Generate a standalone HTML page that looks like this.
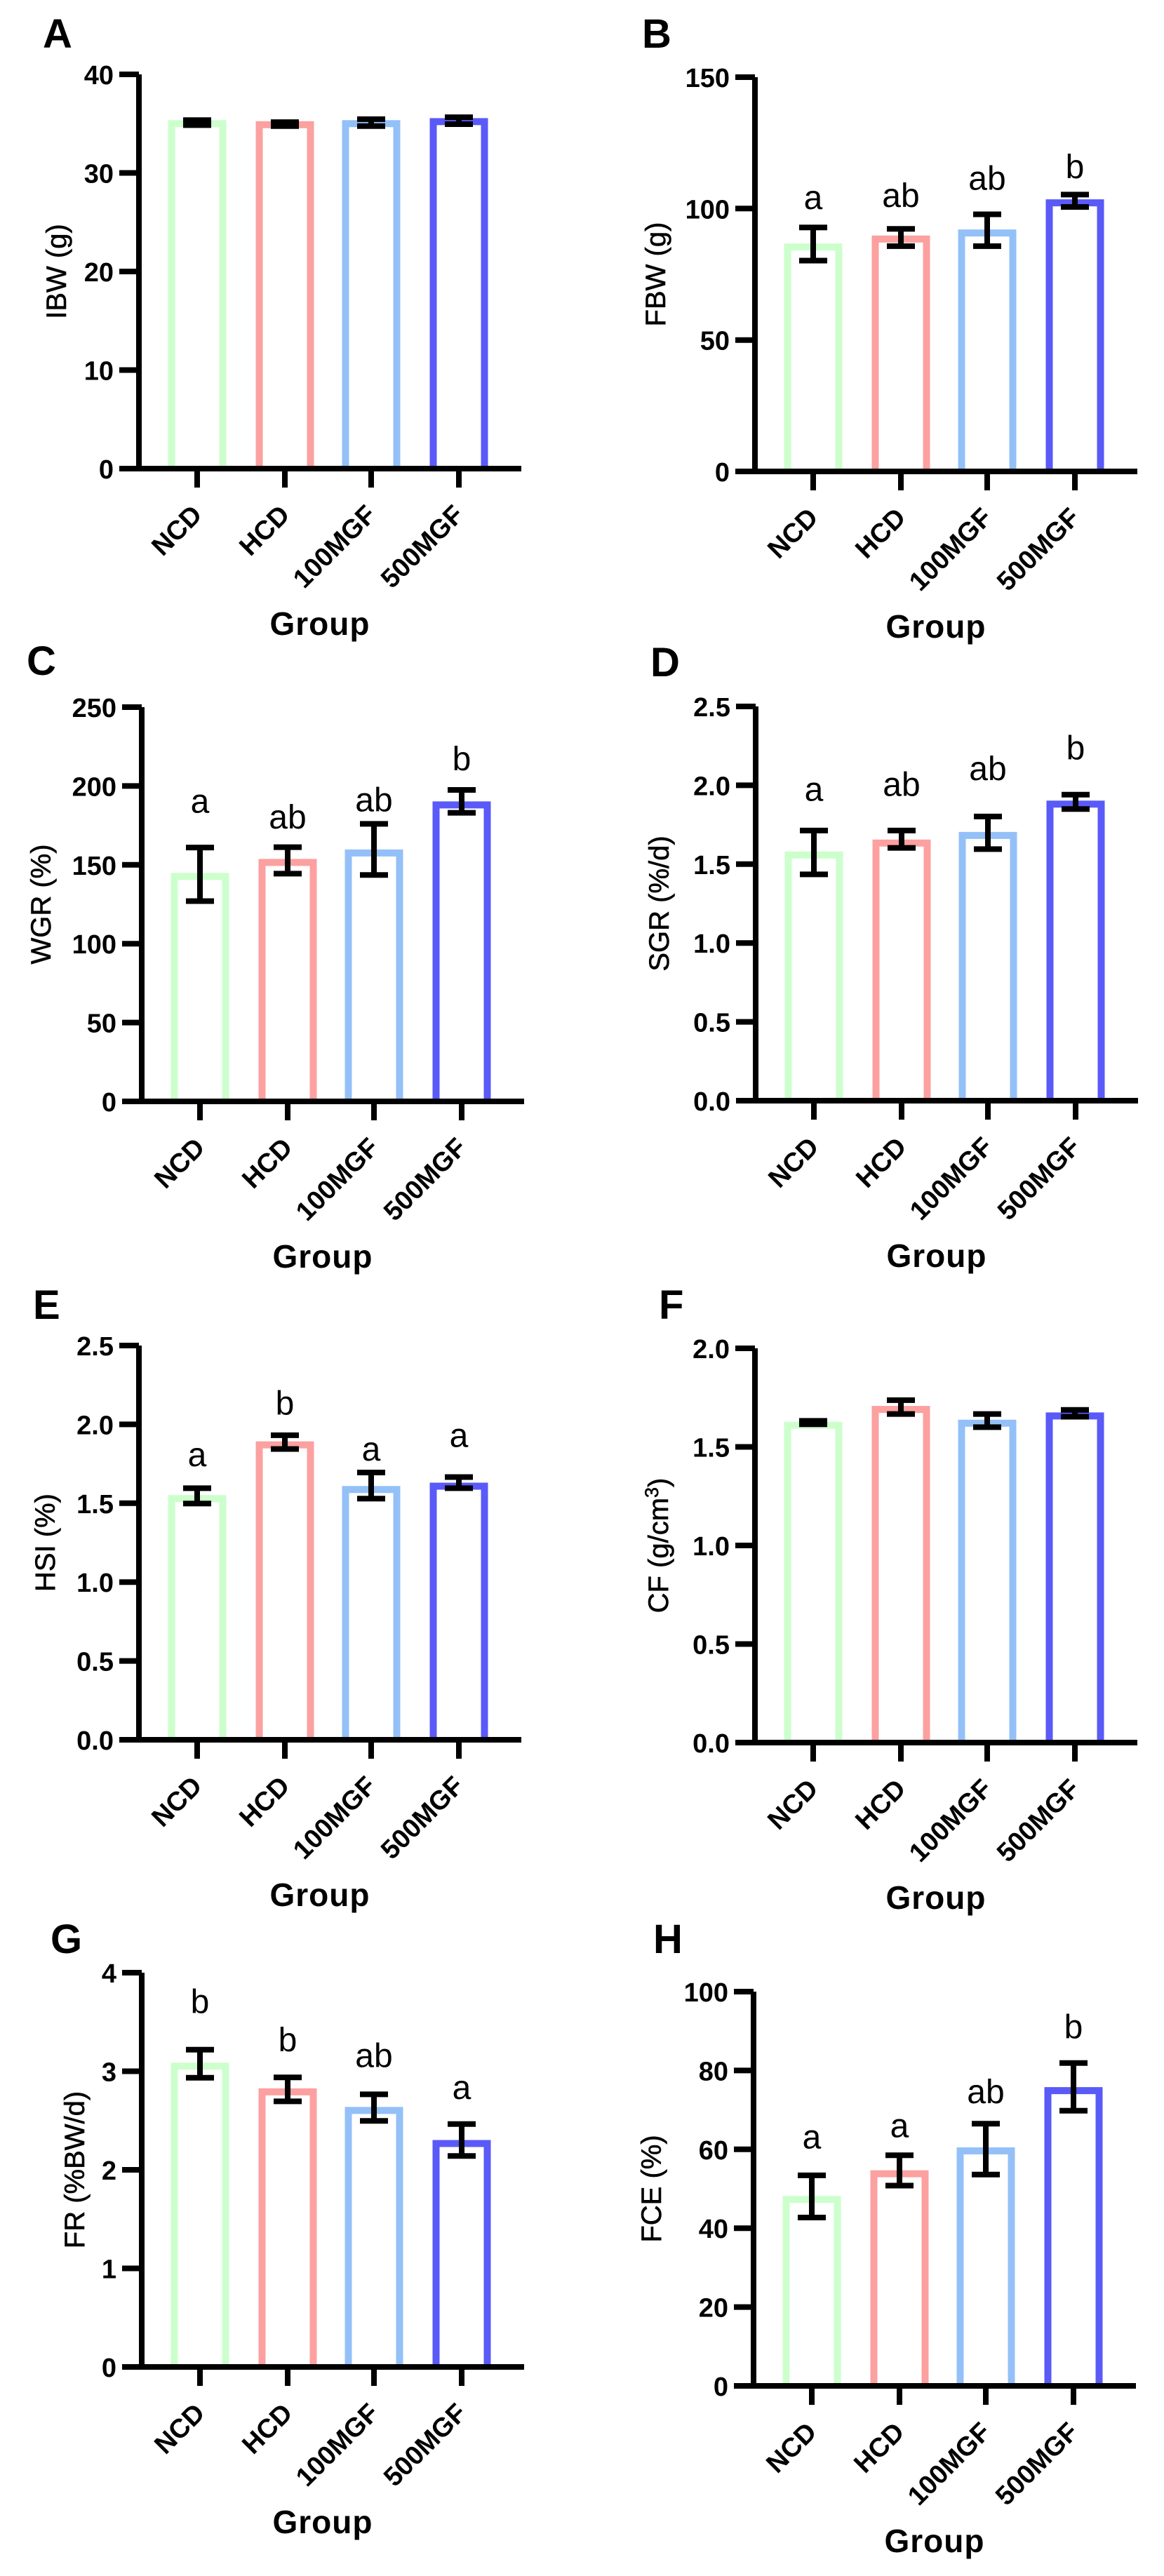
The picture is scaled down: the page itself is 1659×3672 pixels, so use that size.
<!DOCTYPE html>
<html><head><meta charset="utf-8"><style>
html,body{margin:0;padding:0;background:#fff}
svg{display:block}
text{font-family:"Liberation Sans",Arial,sans-serif}
.tk{font-size:38px;font-weight:bold;text-anchor:end}
.cat{font-size:38px;font-weight:bold;text-anchor:end}
.yt{font-size:40px;text-anchor:middle;stroke:#000;stroke-width:0.6}
.gr{font-size:46px;font-weight:bold;text-anchor:middle;letter-spacing:1px}
.sig{font-size:48px;text-anchor:middle}
.pl{font-size:58px;font-weight:bold}
.ax{stroke:#000;stroke-width:8;fill:none}
.eb{stroke:#000;stroke-width:8;fill:none}
.b1{stroke:#ccffcc;stroke-width:10;fill:none}
.b2{stroke:#fca0a0;stroke-width:10;fill:none}
.b3{stroke:#94c0f8;stroke-width:10;fill:none}
.b4{stroke:#5a5af8;stroke-width:10;fill:none}
</style></head><body>
<svg width="1659" height="3672" viewBox="0 0 1659 3672" xmlns="http://www.w3.org/2000/svg">

<text class="pl" x="61" y="68">A</text>
<text class="pl" x="915" y="68">B</text>
<text class="pl" x="38" y="962">C</text>
<text class="pl" x="927" y="964">D</text>
<text class="pl" x="47" y="1880">E</text>
<text class="pl" x="939" y="1880">F</text>
<text class="pl" x="72" y="2784">G</text>
<text class="pl" x="931" y="2784">H</text>

<!-- A -->
<g transform="translate(198,668)">
<path class="b1" d="M46.5,0V-491.8H119.5V0"/>
<path class="b2" d="M171.5,0V-490.3H244.5V0"/>
<path class="b3" d="M294.5,0V-491.8H367.5V0"/>
<path class="b4" d="M419.5,0V-494.6H492.5V0"/>
<path class="eb" d="M83,-489.6V-496.7M63,-489.6H103M63,-496.7H103"/>
<path class="eb" d="M208,-488.2V-493.9M188,-488.2H228M188,-493.9H228"/>
<path class="eb" d="M331,-488.2V-498.1M311,-488.2H351M311,-498.1H351"/>
<path class="eb" d="M456,-491V-500.9M436,-491H476M436,-500.9H476"/>
<path class="ax" d="M0,4V-562M-28,-562H0M-28,-421.5H0M-28,-281H0M-28,-140.5H0M-28,0H545M83,0V27M208,0V27M331,0V27M456,0V27"/>
<text class="tk" x="-36" y="-548">40</text>
<text class="tk" x="-36" y="-407.5">30</text>
<text class="tk" x="-36" y="-267">20</text>
<text class="tk" x="-36" y="-126.5">10</text>
<text class="tk" x="-36" y="14">0</text>
<text class="cat" transform="translate(92,68) rotate(-45)">NCD</text>
<text class="cat" transform="translate(217,68) rotate(-45)">HCD</text>
<text class="cat" transform="translate(340,68) rotate(-45)">100MGF</text>
<text class="cat" transform="translate(465,68) rotate(-45)">500MGF</text>
<text class="gr" x="258" y="237">Group</text>
<text class="yt" transform="translate(-104,-281) rotate(-90)">IBW (g)</text>
</g>

<!-- B -->
<g transform="translate(1076,672)">
<path class="b1" d="M46.5,0V-320H119.5V0"/>
<path class="b2" d="M171.5,0V-331.2H244.5V0"/>
<path class="b3" d="M294.5,0V-339.9H367.5V0"/>
<path class="b4" d="M419.5,0V-382.9H492.5V0"/>
<path class="eb" d="M83,-300.5V-347.7M63,-300.5H103M63,-347.7H103"/>
<path class="eb" d="M208,-321.1V-345.8M188,-321.1H228M188,-345.8H228"/>
<path class="eb" d="M331,-321.1V-366.5M311,-321.1H351M311,-366.5H351"/>
<path class="eb" d="M456,-377V-394.6M436,-377H476M436,-394.6H476"/>
<path class="ax" d="M0,4V-562M-28,-562H0M-28,-374.7H0M-28,-187.3H0M-28,0H545M83,0V27M208,0V27M331,0V27M456,0V27"/>
<text class="tk" x="-36" y="-548">150</text>
<text class="tk" x="-36" y="-360.7">100</text>
<text class="tk" x="-36" y="-173.3">50</text>
<text class="tk" x="-36" y="14">0</text>
<text class="sig" x="83" y="-374">a</text>
<text class="sig" x="208" y="-377">ab</text>
<text class="sig" x="331" y="-401.7">ab</text>
<text class="sig" x="456" y="-418.2">b</text>
<text class="cat" transform="translate(92,68) rotate(-45)">NCD</text>
<text class="cat" transform="translate(217,68) rotate(-45)">HCD</text>
<text class="cat" transform="translate(340,68) rotate(-45)">100MGF</text>
<text class="cat" transform="translate(465,68) rotate(-45)">500MGF</text>
<text class="gr" x="258" y="237">Group</text>
<text class="yt" transform="translate(-128,-281) rotate(-90)">FBW (g)</text>
</g>

<!-- C -->
<g transform="translate(202,1570)">
<path class="b1" d="M46.5,0V-320.6H119.5V0"/>
<path class="b2" d="M171.5,0V-340.6H244.5V0"/>
<path class="b3" d="M294.5,0V-354.1H367.5V0"/>
<path class="b4" d="M419.5,0V-422.6H492.5V0"/>
<path class="eb" d="M83,-285.5V-361.9M63,-285.5H103M63,-361.9H103"/>
<path class="eb" d="M208,-324.6V-362.4M188,-324.6H228M188,-362.4H228"/>
<path class="eb" d="M331,-322.8V-395.6M311,-322.8H351M311,-395.6H351"/>
<path class="eb" d="M456,-411.4V-444M436,-411.4H476M436,-444H476"/>
<path class="ax" d="M0,4V-562M-28,-562H0M-28,-449.6H0M-28,-337.2H0M-28,-224.8H0M-28,-112.4H0M-28,0H545M83,0V27M208,0V27M331,0V27M456,0V27"/>
<text class="tk" x="-36" y="-548">250</text>
<text class="tk" x="-36" y="-435.6">200</text>
<text class="tk" x="-36" y="-323.2">150</text>
<text class="tk" x="-36" y="-210.8">100</text>
<text class="tk" x="-36" y="-98.4">50</text>
<text class="tk" x="-36" y="14">0</text>
<text class="sig" x="83" y="-411.4">a</text>
<text class="sig" x="208" y="-388.9">ab</text>
<text class="sig" x="331" y="-413.6">ab</text>
<text class="sig" x="456" y="-472.1">b</text>
<text class="cat" transform="translate(92,68) rotate(-45)">NCD</text>
<text class="cat" transform="translate(217,68) rotate(-45)">HCD</text>
<text class="cat" transform="translate(340,68) rotate(-45)">100MGF</text>
<text class="cat" transform="translate(465,68) rotate(-45)">500MGF</text>
<text class="gr" x="258" y="237">Group</text>
<text class="yt" transform="translate(-130,-281) rotate(-90)">WGR (%)</text>
</g>

<!-- D -->
<g transform="translate(1077,1569)">
<path class="b1" d="M46.5,0V-350.2H119.5V0"/>
<path class="b2" d="M171.5,0V-367.3H244.5V0"/>
<path class="b3" d="M294.5,0V-378.1H367.5V0"/>
<path class="b4" d="M419.5,0V-422.8H492.5V0"/>
<path class="eb" d="M83,-322.6V-385.1M63,-322.6H103M63,-385.1H103"/>
<path class="eb" d="M208,-360.4V-385.1M188,-360.4H228M188,-385.1H228"/>
<path class="eb" d="M331,-358.6V-405.1M311,-358.6H351M311,-405.1H351"/>
<path class="eb" d="M456,-415.7V-436.3M436,-415.7H476M436,-436.3H476"/>
<path class="ax" d="M0,4V-562M-28,-562H0M-28,-449.6H0M-28,-337.2H0M-28,-224.8H0M-28,-112.4H0M-28,0H545M83,0V27M208,0V27M331,0V27M456,0V27"/>
<text class="tk" x="-36" y="-548">2.5</text>
<text class="tk" x="-36" y="-435.6">2.0</text>
<text class="tk" x="-36" y="-323.2">1.5</text>
<text class="tk" x="-36" y="-210.8">1.0</text>
<text class="tk" x="-36" y="-98.4">0.5</text>
<text class="tk" x="-36" y="14">0.0</text>
<text class="sig" x="83" y="-427.6">a</text>
<text class="sig" x="208" y="-434.5">ab</text>
<text class="sig" x="331" y="-457">ab</text>
<text class="sig" x="456" y="-486.5">b</text>
<text class="cat" transform="translate(92,68) rotate(-45)">NCD</text>
<text class="cat" transform="translate(217,68) rotate(-45)">HCD</text>
<text class="cat" transform="translate(340,68) rotate(-45)">100MGF</text>
<text class="cat" transform="translate(465,68) rotate(-45)">500MGF</text>
<text class="gr" x="258" y="237">Group</text>
<text class="yt" transform="translate(-124,-281) rotate(-90)">SGR (%/d)</text>
</g>

<!-- E -->
<g transform="translate(198,2480)">
<path class="b1" d="M46.5,0V-343.7H119.5V0"/>
<path class="b2" d="M171.5,0V-420.4H244.5V0"/>
<path class="b3" d="M294.5,0V-356.8H367.5V0"/>
<path class="b4" d="M419.5,0V-361.5H492.5V0"/>
<path class="eb" d="M83,-336.8V-358.6M63,-336.8H103M63,-358.6H103"/>
<path class="eb" d="M208,-414.5V-434.1M188,-414.5H228M188,-434.1H228"/>
<path class="eb" d="M331,-343.7V-381M311,-343.7H351M311,-381H351"/>
<path class="eb" d="M456,-358.6V-374.5M436,-358.6H476M436,-374.5H476"/>
<path class="ax" d="M0,4V-562M-28,-562H0M-28,-449.6H0M-28,-337.2H0M-28,-224.8H0M-28,-112.4H0M-28,0H545M83,0V27M208,0V27M331,0V27M456,0V27"/>
<text class="tk" x="-36" y="-548">2.5</text>
<text class="tk" x="-36" y="-435.6">2.0</text>
<text class="tk" x="-36" y="-323.2">1.5</text>
<text class="tk" x="-36" y="-210.8">1.0</text>
<text class="tk" x="-36" y="-98.4">0.5</text>
<text class="tk" x="-36" y="14">0.0</text>
<text class="sig" x="83" y="-389.8">a</text>
<text class="sig" x="208" y="-463.5">b</text>
<text class="sig" x="331" y="-398.1">a</text>
<text class="sig" x="456" y="-417.5">a</text>
<text class="cat" transform="translate(92,68) rotate(-45)">NCD</text>
<text class="cat" transform="translate(217,68) rotate(-45)">HCD</text>
<text class="cat" transform="translate(340,68) rotate(-45)">100MGF</text>
<text class="cat" transform="translate(465,68) rotate(-45)">500MGF</text>
<text class="gr" x="258" y="237">Group</text>
<text class="yt" transform="translate(-120,-281) rotate(-90)">HSI (%)</text>
</g>

<!-- F -->
<g transform="translate(1076,2484)">
<path class="b1" d="M46.5,0V-452.4H119.5V0"/>
<path class="b2" d="M171.5,0V-474.9H244.5V0"/>
<path class="b3" d="M294.5,0V-455.2H367.5V0"/>
<path class="b4" d="M419.5,0V-465.6H492.5V0"/>
<path class="eb" d="M83,-453.8V-458.6M63,-453.8H103M63,-458.6H103"/>
<path class="eb" d="M208,-468.4V-488.1M188,-468.4H228M188,-488.1H228"/>
<path class="eb" d="M331,-449.6V-468.4M311,-449.6H351M311,-468.4H351"/>
<path class="eb" d="M456,-464.5V-474.3M436,-464.5H476M436,-474.3H476"/>
<path class="ax" d="M0,4V-562M-28,-562H0M-28,-421.5H0M-28,-281H0M-28,-140.5H0M-28,0H545M83,0V27M208,0V27M331,0V27M456,0V27"/>
<text class="tk" x="-36" y="-548">2.0</text>
<text class="tk" x="-36" y="-407.5">1.5</text>
<text class="tk" x="-36" y="-267">1.0</text>
<text class="tk" x="-36" y="-126.5">0.5</text>
<text class="tk" x="-36" y="14">0.0</text>
<text class="cat" transform="translate(92,68) rotate(-45)">NCD</text>
<text class="cat" transform="translate(217,68) rotate(-45)">HCD</text>
<text class="cat" transform="translate(340,68) rotate(-45)">100MGF</text>
<text class="cat" transform="translate(465,68) rotate(-45)">500MGF</text>
<text class="gr" x="258" y="237">Group</text>
<text class="yt" transform="translate(-124,-281) rotate(-90)">CF (g/cm<tspan dy="-14" font-size="27">3</tspan><tspan dy="14">)</tspan></text>
</g>

<!-- G -->
<g transform="translate(202,3374)">
<path class="b1" d="M46.5,0V-428.7H119.5V0"/>
<path class="b2" d="M171.5,0V-392.1H244.5V0"/>
<path class="b3" d="M294.5,0V-365.6H367.5V0"/>
<path class="b4" d="M419.5,0V-318.5H492.5V0"/>
<path class="eb" d="M83,-412.2V-452.3M63,-412.2H103M63,-452.3H103"/>
<path class="eb" d="M208,-378.6V-412.8M188,-378.6H228M188,-412.8H228"/>
<path class="eb" d="M331,-350.8V-388.6M311,-350.8H351M311,-388.6H351"/>
<path class="eb" d="M456,-300.8V-346.2M436,-300.8H476M436,-346.2H476"/>
<path class="ax" d="M0,4V-562M-28,-562H0M-28,-421.5H0M-28,-281H0M-28,-140.5H0M-28,0H545M83,0V27M208,0V27M331,0V27M456,0V27"/>
<text class="tk" x="-36" y="-548">4</text>
<text class="tk" x="-36" y="-407.5">3</text>
<text class="tk" x="-36" y="-267">2</text>
<text class="tk" x="-36" y="-126.5">1</text>
<text class="tk" x="-36" y="14">0</text>
<text class="sig" x="83" y="-504.3">b</text>
<text class="sig" x="208" y="-449.9">b</text>
<text class="sig" x="331" y="-427.5">ab</text>
<text class="sig" x="456" y="-382.2">a</text>
<text class="cat" transform="translate(92,68) rotate(-45)">NCD</text>
<text class="cat" transform="translate(217,68) rotate(-45)">HCD</text>
<text class="cat" transform="translate(340,68) rotate(-45)">100MGF</text>
<text class="cat" transform="translate(465,68) rotate(-45)">500MGF</text>
<text class="gr" x="258" y="237">Group</text>
<text class="yt" transform="translate(-82,-281) rotate(-90)">FR (%BW/d)</text>
</g>

<!-- H -->
<g transform="translate(1074,3401)">
<path class="b1" d="M46.5,0V-265.8H119.5V0"/>
<path class="b2" d="M171.5,0V-302.4H244.5V0"/>
<path class="b3" d="M294.5,0V-335H367.5V0"/>
<path class="b4" d="M419.5,0V-420.9H492.5V0"/>
<path class="eb" d="M83,-240V-300.1M63,-240H103M63,-300.1H103"/>
<path class="eb" d="M208,-285.5V-328.8M188,-285.5H228M188,-328.8H228"/>
<path class="eb" d="M331,-301.2V-373.7M311,-301.2H351M311,-373.7H351"/>
<path class="eb" d="M456,-392.3V-460.3M436,-392.3H476M436,-460.3H476"/>
<path class="ax" d="M0,4V-562M-28,-562H0M-28,-449.6H0M-28,-337.2H0M-28,-224.8H0M-28,-112.4H0M-28,0H545M83,0V27M208,0V27M331,0V27M456,0V27"/>
<text class="tk" x="-36" y="-548">100</text>
<text class="tk" x="-36" y="-435.6">80</text>
<text class="tk" x="-36" y="-323.2">60</text>
<text class="tk" x="-36" y="-210.8">40</text>
<text class="tk" x="-36" y="-98.4">20</text>
<text class="tk" x="-36" y="14">0</text>
<text class="sig" x="83" y="-338.3">a</text>
<text class="sig" x="208" y="-354.6">a</text>
<text class="sig" x="331" y="-403">ab</text>
<text class="sig" x="456" y="-495.7">b</text>
<text class="cat" transform="translate(92,68) rotate(-45)">NCD</text>
<text class="cat" transform="translate(217,68) rotate(-45)">HCD</text>
<text class="cat" transform="translate(340,68) rotate(-45)">100MGF</text>
<text class="cat" transform="translate(465,68) rotate(-45)">500MGF</text>
<text class="gr" x="258" y="237">Group</text>
<text class="yt" transform="translate(-132,-281) rotate(-90)">FCE (%)</text>
</g>

</svg>
</body></html>
